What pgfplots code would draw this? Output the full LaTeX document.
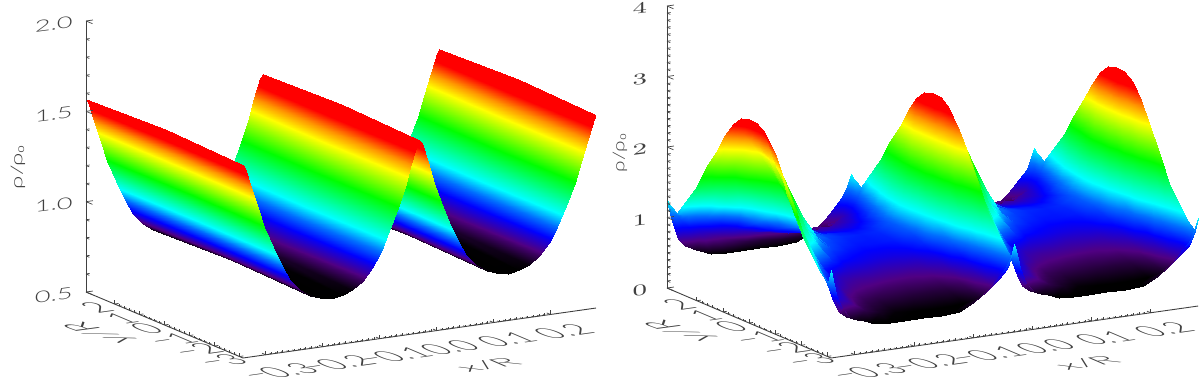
\documentclass[border=0pt]{standalone}
\usepackage{fontspec}
\setmainfont{Lato}[UprightFont=* Light]
\usepackage{pgfplots}
\pgfplotsset{compat=1.18}
\definecolor{axgray}{gray}{0.25}
\newcommand{\tf}{\fontsize{8}{8}\selectfont}
\pgfplotsset{
  colormap={idl}{rgb255(0pt)=(0,0,0) rgb255(8pt)=(80,0,130) rgb255(17pt)=(0,0,255) rgb255(25pt)=(0,110,255) rgb255(33pt)=(0,255,255) rgb255(55pt)=(0,255,0) rgb255(75pt)=(255,255,0) rgb255(83pt)=(255,150,0) rgb255(92pt)=(255,0,0) rgb255(100pt)=(255,0,0)},
  colormap name=idl,
  base/.style={
    clip=false, tick align=inside, xmin=-0.34, xmax=0.28, ymin=-3.1416, ymax=3.1416,
    axis line style={axgray,line width=0.45pt}, tick style={axgray,line width=0.35pt},
  },
  xyaxes/.style={base,
    major tick length=2pt, minor tick length=1pt,
    axis x line*=bottom, axis y line*=left, axis z line=none,
    xtick={-0.3,-0.2,-0.1,0,0.1,0.2},
    xticklabels={−0.3,−0.2,−0.1,0.0,0.1,0.2},
    ytick={-3,-2,-1,0,1,2}, yticklabels={−3,−2,−1,0,1,2},
    minor x tick num=9, minor y tick num=4,
    xticklabel style={anchor=center,xshift=6.5pt,yshift=-8.5pt,cm={2.08,.29,-1.89,.8,(0,0)},font=\tf,text=axgray},
    yticklabel style={anchor=center,xshift=-9pt,yshift=-2pt,cm={2.08,.29,-1.89,.8,(0,0)},font=\tf,text=axgray},
  },
  zaxis/.style={base,
    major tick length=3.5pt, minor tick length=1.8pt,
    axis x line=none, axis y line=none, axis z line*=left,
    zticklabel style={anchor=center,font=\tf,text=axgray,cm={1.7,.22,0,1,(0,0)}},
  },
  surfstyle/.style={surf,shader=interp,z buffer=none,mesh/ordering=y varies},
}
\begin{document}
\begin{tikzpicture}
\path[use as bounding box] (0,0) rectangle (600pt,188.5pt);
% left panel
\begin{axis}[xyaxes, at={(179.05pt,39.7pt)}, anchor=origin,
  x={(284.7pt,40.3pt)}, y={(-12.49pt,5.25pt)}, z={(0pt,90.35pt)},
  zmin=0.5, zmax=2, point meta min=0.785, point meta max=1.57]
\addplot3[surfstyle] coordinates {
(.28,-3.14,1.57)(.28,0,1.587)(.28,3.14,1.57)

(.2763,-3.14,1.55)(.2763,0,1.567)(.2763,3.14,1.55)

(.2657,-3.14,1.44)(.2657,0,1.457)(.2657,3.14,1.44)

(.254,-3.14,1.32)(.254,0,1.337)(.254,3.14,1.32)

(.2428,-3.14,1.21)(.2428,0,1.227)(.2428,3.14,1.21)

(.2273,-3.14,1.09)(.2273,0,1.107)(.2273,3.14,1.09)

(.2118,-3.14,.98)(.2118,0,.997)(.2118,3.14,.98)

(.1975,-3.14,.895)(.1975,0,.912)(.1975,3.14,.895)

(.1802,-3.14,.83)(.1802,0,.847)(.1802,3.14,.83)

(.1622,-3.14,.79)(.1622,0,.807)(.1622,3.14,.79)

(.145,-3.14,.77)(.145,0,.787)(.145,3.14,.77)

(.125,-3.14,.76)(.125,0,.777)(.125,3.14,.76)

(.105,-3.14,.77)(.105,0,.787)(.105,3.14,.77)

(.0878,-3.14,.79)(.0878,0,.807)(.0878,3.14,.79)

(.0698,-3.14,.83)(.0698,0,.847)(.0698,3.14,.83)

(.0525,-3.14,.895)(.0525,0,.912)(.0525,3.14,.895)

(.0382,-3.14,.98)(.0382,0,.997)(.0382,3.14,.98)

(.0227,-3.14,1.09)(.0227,0,1.107)(.0227,3.14,1.09)

(.0072,-3.14,1.21)(.0072,0,1.227)(.0072,3.14,1.21)

(-.004,-3.14,1.32)(-.004,0,1.337)(-.004,3.14,1.32)

(-.0157,-3.14,1.44)(-.0157,0,1.457)(-.0157,3.14,1.44)

(-.0263,-3.14,1.55)(-.0263,0,1.567)(-.0263,3.14,1.55)

(-.03,-3.14,1.57)(-.03,0,1.587)(-.03,3.14,1.57)

(-.0337,-3.14,1.55)(-.0337,0,1.567)(-.0337,3.14,1.55)

(-.0443,-3.14,1.44)(-.0443,0,1.457)(-.0443,3.14,1.44)

(-.056,-3.14,1.32)(-.056,0,1.337)(-.056,3.14,1.32)

(-.0672,-3.14,1.21)(-.0672,0,1.227)(-.0672,3.14,1.21)

(-.0827,-3.14,1.09)(-.0827,0,1.107)(-.0827,3.14,1.09)

(-.0982,-3.14,.98)(-.0982,0,.997)(-.0982,3.14,.98)

(-.1125,-3.14,.895)(-.1125,0,.912)(-.1125,3.14,.895)

(-.1298,-3.14,.83)(-.1298,0,.847)(-.1298,3.14,.83)

(-.1478,-3.14,.79)(-.1478,0,.807)(-.1478,3.14,.79)

(-.165,-3.14,.77)(-.165,0,.787)(-.165,3.14,.77)

(-.185,-3.14,.76)(-.185,0,.777)(-.185,3.14,.76)

(-.205,-3.14,.77)(-.205,0,.787)(-.205,3.14,.77)

(-.2228,-3.14,.79)(-.2228,0,.807)(-.2228,3.14,.79)

(-.2402,-3.14,.83)(-.2402,0,.847)(-.2402,3.14,.83)

(-.2575,-3.14,.895)(-.2575,0,.912)(-.2575,3.14,.895)

(-.2718,-3.14,.98)(-.2718,0,.997)(-.2718,3.14,.98)

(-.2873,-3.14,1.09)(-.2873,0,1.107)(-.2873,3.14,1.09)

(-.3028,-3.14,1.21)(-.3028,0,1.227)(-.3028,3.14,1.21)

(-.314,-3.14,1.32)(-.314,0,1.337)(-.314,3.14,1.32)

(-.3257,-3.14,1.44)(-.3257,0,1.457)(-.3257,3.14,1.44)

(-.3363,-3.14,1.55)(-.3363,0,1.567)(-.3363,3.14,1.55)

(-.34,-3.14,1.57)(-.34,0,1.587)(-.34,3.14,1.57)
};
\end{axis}
\begin{axis}[zaxis, at={(179.05pt,39.7pt)}, anchor=origin,
  x={(284.7pt,40.3pt)}, y={(12.49pt,-5.25pt)}, z={(0pt,90.35pt)},
  zmin=0.5, zmax=2, ztick={0.5,1,1.5,2}, zticklabels={0.5,1.0,1.5,2.0}, minor z tick num=4,
  zticklabel style={xshift=-9.5pt,yshift=.5pt}]
\end{axis}
% right panel
\begin{axis}[xyaxes, at={(475.15pt,41.25pt)}, anchor=origin,
  x={(296pt,41.9pt)}, y={(-13.05pt,5.57pt)}, z={(0pt,35.25pt)},
  zmin=0, zmax=4, point meta min=0.43, point meta max=2.9]
\addplot3[surfstyle] coordinates {
(.28,-3.14,1.25)(.28,-3.02,1.04)(.28,-2.77,1.15)(.28,-2.07,1.53)(.28,-1.7,1.92)(.28,-1.26,2.3)(.28,-.94,2.58)(.28,-.63,2.78)(.28,-.31,2.88)(.28,0,2.9)(.28,.31,2.86)(.28,.63,2.73)(.28,.94,2.5)(.28,1.26,2.23)(.28,1.63,1.95)(.28,2.01,1.62)(.28,2.76,1.12)(.28,3.02,1.2)(.28,3.14,1.25)

(.2738,-3.14,1.08)(.2738,-3.02,.91)(.2738,-2.77,.97)(.2738,-2.07,1.23)(.2738,-1.7,1.52)(.2738,-1.26,1.81)(.2738,-.94,2.02)(.2738,-.63,2.19)(.2738,-.31,2.27)(.2738,0,2.29)(.2738,.31,2.27)(.2738,.63,2.18)(.2738,.94,2.01)(.2738,1.26,1.82)(.2738,1.63,1.61)(.2738,2.01,1.36)(.2738,2.76,.98)(.2738,3.02,1.0)(.2738,3.14,1.08)

(.2676,-3.14,.97)(.2676,-3.02,.83)(.2676,-2.77,.79)(.2676,-2.07,1.0)(.2676,-1.7,1.22)(.2676,-1.26,1.44)(.2676,-.94,1.61)(.2676,-.63,1.75)(.2676,-.31,1.82)(.2676,0,1.85)(.2676,.31,1.84)(.2676,.63,1.78)(.2676,.94,1.66)(.2676,1.26,1.51)(.2676,1.63,1.35)(.2676,2.01,1.17)(.2676,2.76,.88)(.2676,3.02,.85)(.2676,3.14,.97)

(.2552,-3.14,.84)(.2552,-3.02,.73)(.2552,-2.77,.61)(.2552,-2.07,.73)(.2552,-1.7,.86)(.2552,-1.26,1.0)(.2552,-.94,1.11)(.2552,-.63,1.22)(.2552,-.31,1.27)(.2552,0,1.3)(.2552,.31,1.3)(.2552,.63,1.28)(.2552,.94,1.22)(.2552,1.26,1.14)(.2552,1.63,1.04)(.2552,2.01,.93)(.2552,2.76,.75)(.2552,3.02,.68)(.2552,3.14,.84)

(.2366,-3.14,.66)(.2366,-3.02,.6)(.2366,-2.77,.49)(.2366,-2.07,.58)(.2366,-1.7,.66)(.2366,-1.26,.75)(.2366,-.94,.83)(.2366,-.63,.92)(.2366,-.31,.96)(.2366,0,1.0)(.2366,.31,1.01)(.2366,.63,1.01)(.2366,.94,.98)(.2366,1.26,.93)(.2366,1.63,.87)(.2366,2.01,.8)(.2366,2.76,.68)(.2366,3.02,.57)(.2366,3.14,.66)

(.2118,-3.14,.5)(.2118,-3.02,.48)(.2118,-2.77,.43)(.2118,-2.07,.53)(.2118,-1.7,.59)(.2118,-1.26,.67)(.2118,-.94,.74)(.2118,-.63,.82)(.2118,-.31,.86)(.2118,0,.9)(.2118,.31,.91)(.2118,.63,.92)(.2118,.94,.9)(.2118,1.26,.86)(.2118,1.63,.81)(.2118,2.01,.76)(.2118,2.76,.65)(.2118,3.02,.51)(.2118,3.14,.5)

(.187,-3.14,.4)(.187,-3.02,.4)(.187,-2.77,.42)(.187,-2.07,.52)(.187,-1.7,.58)(.187,-1.26,.65)(.187,-.94,.72)(.187,-.63,.8)(.187,-.31,.84)(.187,0,.88)(.187,.31,.89)(.187,.63,.9)(.187,.94,.88)(.187,1.26,.85)(.187,1.63,.8)(.187,2.01,.75)(.187,2.76,.65)(.187,3.02,.5)(.187,3.14,.4)

(.156,-3.14,.38)(.156,-3.02,.39)(.156,-2.77,.42)(.156,-2.07,.52)(.156,-1.7,.58)(.156,-1.26,.65)(.156,-.94,.72)(.156,-.63,.8)(.156,-.31,.84)(.156,0,.88)(.156,.31,.9)(.156,.63,.92)(.156,.94,.9)(.156,1.26,.86)(.156,1.63,.81)(.156,2.01,.76)(.156,2.76,.65)(.156,3.02,.5)(.156,3.14,.38)

(.125,-3.14,.38)(.125,-3.02,.39)(.125,-2.77,.43)(.125,-2.07,.53)(.125,-1.7,.59)(.125,-1.26,.67)(.125,-.94,.75)(.125,-.63,.83)(.125,-.31,.88)(.125,0,.92)(.125,.31,.95)(.125,.63,.97)(.125,.94,.94)(.125,1.26,.91)(.125,1.63,.85)(.125,2.01,.78)(.125,2.76,.67)(.125,3.02,.51)(.125,3.14,.38)

(.094,-3.14,.38)(.094,-3.02,.39)(.094,-2.77,.44)(.094,-2.07,.54)(.094,-1.7,.61)(.094,-1.26,.68)(.094,-.94,.79)(.094,-.63,.88)(.094,-.31,.96)(.094,0,1.0)(.094,.31,1.07)(.094,.63,1.12)(.094,.94,1.07)(.094,1.26,1.02)(.094,1.63,.94)(.094,2.01,.85)(.094,2.76,.71)(.094,3.02,.54)(.094,3.14,.38)

(.0692,-3.14,.38)(.0692,-3.02,.39)(.0692,-2.77,.48)(.0692,-2.07,.57)(.0692,-1.7,.65)(.0692,-1.26,.73)(.0692,-.94,.91)(.0692,-.63,1.0)(.0692,-.31,1.17)(.0692,0,1.2)(.0692,.31,1.32)(.0692,.63,1.41)(.0692,.94,1.33)(.0692,1.26,1.24)(.0692,1.63,1.12)(.0692,2.01,.99)(.0692,2.76,.78)(.0692,3.02,.6)(.0692,3.14,.38)

(.0444,-3.14,.4)(.0444,-3.02,.4)(.0444,-2.77,.54)(.0444,-2.07,.65)(.0444,-1.7,.75)(.0444,-1.26,.86)(.0444,-.94,1.17)(.0444,-.63,1.28)(.0444,-.31,1.51)(.0444,0,1.55)(.0444,.31,1.71)(.0444,.63,1.82)(.0444,.94,1.69)(.0444,1.26,1.54)(.0444,1.63,1.38)(.0444,2.01,1.19)(.0444,2.76,.89)(.0444,3.02,.68)(.0444,3.14,.4)

(.0196,-3.14,.48)(.0196,-3.02,.46)(.0196,-2.77,.66)(.0196,-2.07,.82)(.0196,-1.7,.98)(.0196,-1.26,1.15)(.0196,-.94,1.52)(.0196,-.63,1.65)(.0196,-.31,1.97)(.0196,0,2.0)(.0196,.31,2.13)(.0196,.63,2.18)(.0196,.94,2.01)(.0196,1.26,1.82)(.0196,1.63,1.61)(.0196,2.01,1.36)(.0196,2.76,.98)(.0196,3.02,.78)(.0196,3.14,.48)

(.001,-3.14,.56)(.001,-3.02,.52)(.001,-2.77,.76)(.001,-2.07,1.03)(.001,-1.7,1.25)(.001,-1.26,1.48)(.001,-.94,1.87)(.001,-.63,2.03)(.001,-.31,2.33)(.001,0,2.35)(.001,.31,2.43)(.001,.63,2.42)(.001,.94,2.22)(.001,1.26,2.0)(.001,1.63,1.75)(.001,2.01,1.47)(.001,2.76,1.04)(.001,3.02,.85)(.001,3.14,.56)

(-.0114,-3.14,.68)(-.0114,-3.02,.61)(-.0114,-2.77,.86)(-.0114,-2.07,1.21)(-.0114,-1.7,1.49)(-.0114,-1.26,1.77)(-.0114,-.94,2.13)(-.0114,-.63,2.3)(-.0114,-.31,2.57)(-.0114,0,2.6)(-.0114,.31,2.61)(-.0114,.63,2.55)(-.0114,.94,2.34)(-.0114,1.26,2.09)(-.0114,1.63,1.84)(-.0114,2.01,1.53)(-.0114,2.76,1.07)(-.0114,3.02,.96)(-.0114,3.14,.68)

(-.0207,-3.14,.9)(-.0207,-3.02,.78)(-.0207,-2.77,.99)(-.0207,-2.07,1.35)(-.0207,-1.7,1.68)(-.0207,-1.26,2.0)(-.0207,-.94,2.36)(-.0207,-.63,2.54)(-.0207,-.31,2.78)(-.0207,0,2.8)(-.0207,.31,2.77)(-.0207,.63,2.66)(-.0207,.94,2.44)(-.0207,1.26,2.17)(-.0207,1.63,1.9)(-.0207,2.01,1.59)(-.0207,2.76,1.1)(-.0207,3.02,1.06)(-.0207,3.14,.9)

(-.0263,-3.14,1.1)(-.0263,-3.02,.93)(-.0263,-2.77,1.08)(-.0263,-2.07,1.48)(-.0263,-1.7,1.85)(-.0263,-1.26,2.22)(-.0263,-.94,2.51)(-.0263,-.63,2.7)(-.0263,-.31,2.83)(-.0263,0,2.85)(-.0263,.31,2.82)(-.0263,.63,2.69)(-.0263,.94,2.47)(-.0263,1.26,2.2)(-.0263,1.63,1.93)(-.0263,2.01,1.6)(-.0263,2.76,1.11)(-.0263,3.02,1.13)(-.0263,3.14,1.1)

(-.03,-3.14,1.25)(-.03,-3.02,1.04)(-.03,-2.77,1.15)(-.03,-2.07,1.53)(-.03,-1.7,1.92)(-.03,-1.26,2.3)(-.03,-.94,2.58)(-.03,-.63,2.78)(-.03,-.31,2.88)(-.03,0,2.9)(-.03,.31,2.86)(-.03,.63,2.73)(-.03,.94,2.5)(-.03,1.26,2.23)(-.03,1.63,1.95)(-.03,2.01,1.62)(-.03,2.76,1.12)(-.03,3.02,1.2)(-.03,3.14,1.25)

(-.0362,-3.14,1.08)(-.0362,-3.02,.91)(-.0362,-2.77,.97)(-.0362,-2.07,1.23)(-.0362,-1.7,1.52)(-.0362,-1.26,1.81)(-.0362,-.94,2.02)(-.0362,-.63,2.19)(-.0362,-.31,2.27)(-.0362,0,2.29)(-.0362,.31,2.27)(-.0362,.63,2.18)(-.0362,.94,2.01)(-.0362,1.26,1.82)(-.0362,1.63,1.61)(-.0362,2.01,1.36)(-.0362,2.76,.98)(-.0362,3.02,1.0)(-.0362,3.14,1.08)

(-.0424,-3.14,.97)(-.0424,-3.02,.83)(-.0424,-2.77,.79)(-.0424,-2.07,1.0)(-.0424,-1.7,1.22)(-.0424,-1.26,1.44)(-.0424,-.94,1.61)(-.0424,-.63,1.75)(-.0424,-.31,1.82)(-.0424,0,1.85)(-.0424,.31,1.84)(-.0424,.63,1.78)(-.0424,.94,1.66)(-.0424,1.26,1.51)(-.0424,1.63,1.35)(-.0424,2.01,1.17)(-.0424,2.76,.88)(-.0424,3.02,.85)(-.0424,3.14,.97)

(-.0548,-3.14,.84)(-.0548,-3.02,.73)(-.0548,-2.77,.61)(-.0548,-2.07,.73)(-.0548,-1.7,.86)(-.0548,-1.26,1.0)(-.0548,-.94,1.11)(-.0548,-.63,1.22)(-.0548,-.31,1.27)(-.0548,0,1.3)(-.0548,.31,1.3)(-.0548,.63,1.28)(-.0548,.94,1.22)(-.0548,1.26,1.14)(-.0548,1.63,1.04)(-.0548,2.01,.93)(-.0548,2.76,.75)(-.0548,3.02,.68)(-.0548,3.14,.84)

(-.0734,-3.14,.66)(-.0734,-3.02,.6)(-.0734,-2.77,.49)(-.0734,-2.07,.58)(-.0734,-1.7,.66)(-.0734,-1.26,.75)(-.0734,-.94,.83)(-.0734,-.63,.92)(-.0734,-.31,.96)(-.0734,0,1.0)(-.0734,.31,1.01)(-.0734,.63,1.01)(-.0734,.94,.98)(-.0734,1.26,.93)(-.0734,1.63,.87)(-.0734,2.01,.8)(-.0734,2.76,.68)(-.0734,3.02,.57)(-.0734,3.14,.66)

(-.0982,-3.14,.5)(-.0982,-3.02,.48)(-.0982,-2.77,.43)(-.0982,-2.07,.53)(-.0982,-1.7,.59)(-.0982,-1.26,.67)(-.0982,-.94,.74)(-.0982,-.63,.82)(-.0982,-.31,.86)(-.0982,0,.9)(-.0982,.31,.91)(-.0982,.63,.92)(-.0982,.94,.9)(-.0982,1.26,.86)(-.0982,1.63,.81)(-.0982,2.01,.76)(-.0982,2.76,.65)(-.0982,3.02,.51)(-.0982,3.14,.5)

(-.123,-3.14,.4)(-.123,-3.02,.4)(-.123,-2.77,.42)(-.123,-2.07,.52)(-.123,-1.7,.58)(-.123,-1.26,.65)(-.123,-.94,.72)(-.123,-.63,.8)(-.123,-.31,.84)(-.123,0,.88)(-.123,.31,.89)(-.123,.63,.9)(-.123,.94,.88)(-.123,1.26,.85)(-.123,1.63,.8)(-.123,2.01,.75)(-.123,2.76,.65)(-.123,3.02,.5)(-.123,3.14,.4)

(-.154,-3.14,.38)(-.154,-3.02,.39)(-.154,-2.77,.42)(-.154,-2.07,.52)(-.154,-1.7,.58)(-.154,-1.26,.65)(-.154,-.94,.72)(-.154,-.63,.8)(-.154,-.31,.84)(-.154,0,.88)(-.154,.31,.9)(-.154,.63,.92)(-.154,.94,.9)(-.154,1.26,.86)(-.154,1.63,.81)(-.154,2.01,.76)(-.154,2.76,.65)(-.154,3.02,.5)(-.154,3.14,.38)

(-.185,-3.14,.38)(-.185,-3.02,.39)(-.185,-2.77,.43)(-.185,-2.07,.53)(-.185,-1.7,.59)(-.185,-1.26,.67)(-.185,-.94,.75)(-.185,-.63,.83)(-.185,-.31,.88)(-.185,0,.92)(-.185,.31,.95)(-.185,.63,.97)(-.185,.94,.94)(-.185,1.26,.91)(-.185,1.63,.85)(-.185,2.01,.78)(-.185,2.76,.67)(-.185,3.02,.51)(-.185,3.14,.38)

(-.216,-3.14,.38)(-.216,-3.02,.39)(-.216,-2.77,.44)(-.216,-2.07,.54)(-.216,-1.7,.61)(-.216,-1.26,.68)(-.216,-.94,.79)(-.216,-.63,.88)(-.216,-.31,.96)(-.216,0,1.0)(-.216,.31,1.07)(-.216,.63,1.12)(-.216,.94,1.07)(-.216,1.26,1.02)(-.216,1.63,.94)(-.216,2.01,.85)(-.216,2.76,.71)(-.216,3.02,.54)(-.216,3.14,.38)

(-.2408,-3.14,.38)(-.2408,-3.02,.39)(-.2408,-2.77,.48)(-.2408,-2.07,.57)(-.2408,-1.7,.65)(-.2408,-1.26,.73)(-.2408,-.94,.91)(-.2408,-.63,1.0)(-.2408,-.31,1.17)(-.2408,0,1.2)(-.2408,.31,1.32)(-.2408,.63,1.41)(-.2408,.94,1.33)(-.2408,1.26,1.24)(-.2408,1.63,1.12)(-.2408,2.01,.99)(-.2408,2.76,.78)(-.2408,3.02,.6)(-.2408,3.14,.38)

(-.2656,-3.14,.4)(-.2656,-3.02,.4)(-.2656,-2.77,.54)(-.2656,-2.07,.65)(-.2656,-1.7,.75)(-.2656,-1.26,.86)(-.2656,-.94,1.17)(-.2656,-.63,1.28)(-.2656,-.31,1.51)(-.2656,0,1.55)(-.2656,.31,1.71)(-.2656,.63,1.82)(-.2656,.94,1.69)(-.2656,1.26,1.54)(-.2656,1.63,1.38)(-.2656,2.01,1.19)(-.2656,2.76,.89)(-.2656,3.02,.68)(-.2656,3.14,.4)

(-.2904,-3.14,.48)(-.2904,-3.02,.46)(-.2904,-2.77,.66)(-.2904,-2.07,.82)(-.2904,-1.7,.98)(-.2904,-1.26,1.15)(-.2904,-.94,1.52)(-.2904,-.63,1.65)(-.2904,-.31,1.97)(-.2904,0,2.0)(-.2904,.31,2.13)(-.2904,.63,2.18)(-.2904,.94,2.01)(-.2904,1.26,1.82)(-.2904,1.63,1.61)(-.2904,2.01,1.36)(-.2904,2.76,.98)(-.2904,3.02,.78)(-.2904,3.14,.48)

(-.309,-3.14,.56)(-.309,-3.02,.52)(-.309,-2.77,.76)(-.309,-2.07,1.03)(-.309,-1.7,1.25)(-.309,-1.26,1.48)(-.309,-.94,1.87)(-.309,-.63,2.03)(-.309,-.31,2.33)(-.309,0,2.35)(-.309,.31,2.43)(-.309,.63,2.42)(-.309,.94,2.22)(-.309,1.26,2.0)(-.309,1.63,1.75)(-.309,2.01,1.47)(-.309,2.76,1.04)(-.309,3.02,.85)(-.309,3.14,.56)

(-.3214,-3.14,.68)(-.3214,-3.02,.61)(-.3214,-2.77,.86)(-.3214,-2.07,1.21)(-.3214,-1.7,1.49)(-.3214,-1.26,1.77)(-.3214,-.94,2.13)(-.3214,-.63,2.3)(-.3214,-.31,2.57)(-.3214,0,2.6)(-.3214,.31,2.61)(-.3214,.63,2.55)(-.3214,.94,2.34)(-.3214,1.26,2.09)(-.3214,1.63,1.84)(-.3214,2.01,1.53)(-.3214,2.76,1.07)(-.3214,3.02,.96)(-.3214,3.14,.68)

(-.3307,-3.14,.9)(-.3307,-3.02,.78)(-.3307,-2.77,.99)(-.3307,-2.07,1.35)(-.3307,-1.7,1.68)(-.3307,-1.26,2.0)(-.3307,-.94,2.36)(-.3307,-.63,2.54)(-.3307,-.31,2.78)(-.3307,0,2.8)(-.3307,.31,2.77)(-.3307,.63,2.66)(-.3307,.94,2.44)(-.3307,1.26,2.17)(-.3307,1.63,1.9)(-.3307,2.01,1.59)(-.3307,2.76,1.1)(-.3307,3.02,1.06)(-.3307,3.14,.9)

(-.3363,-3.14,1.1)(-.3363,-3.02,.93)(-.3363,-2.77,1.08)(-.3363,-2.07,1.48)(-.3363,-1.7,1.85)(-.3363,-1.26,2.22)(-.3363,-.94,2.51)(-.3363,-.63,2.7)(-.3363,-.31,2.83)(-.3363,0,2.85)(-.3363,.31,2.82)(-.3363,.63,2.69)(-.3363,.94,2.47)(-.3363,1.26,2.2)(-.3363,1.63,1.93)(-.3363,2.01,1.6)(-.3363,2.76,1.11)(-.3363,3.02,1.13)(-.3363,3.14,1.1)

(-.34,-3.14,1.25)(-.34,-3.02,1.04)(-.34,-2.77,1.15)(-.34,-2.07,1.53)(-.34,-1.7,1.92)(-.34,-1.26,2.3)(-.34,-.94,2.58)(-.34,-.63,2.78)(-.34,-.31,2.88)(-.34,0,2.9)(-.34,.31,2.86)(-.34,.63,2.73)(-.34,.94,2.5)(-.34,1.26,2.23)(-.34,1.63,1.95)(-.34,2.01,1.62)(-.34,2.76,1.12)(-.34,3.02,1.2)(-.34,3.14,1.25)
};
\end{axis}
\begin{axis}[zaxis, at={(475.15pt,41.25pt)}, anchor=origin,
  x={(296pt,41.9pt)}, y={(13.05pt,-5.57pt)}, z={(0pt,35.25pt)},
  zmin=0, zmax=4, ztick={0,1,2,3,4}, minor z tick num=9,
  zticklabel style={xshift=-8pt,yshift=.5pt}]
\end{axis}
% axis titles
\node[font=\tf,text=axgray,cm={2.28,.32,-1.4,.6,(0,0)}] at (244pt,6pt) {x/R};
\node[font=\tf,text=axgray,cm={-2.25,.8,-2.1,-.28,(0,0)}] at (50pt,22pt) {y/R};
\node[font=\tf,text=axgray,cm={0,1.5,-1,0,(0,0)}] at (9pt,105pt) {ρ/ρ₀};
\node[font=\tf,text=axgray,cm={2.28,.32,-1.4,.6,(0,0)}] at (543.5pt,7pt) {x/R};
\node[font=\tf,text=axgray,cm={-2.25,.8,-2.1,-.28,(0,0)}] at (340.5pt,23pt) {y/R};
\node[font=\tf,text=axgray,cm={0,1.3,-1,0,(0,0)}] at (310pt,112pt) {ρ/ρ₀};
\end{tikzpicture}
\end{document}
